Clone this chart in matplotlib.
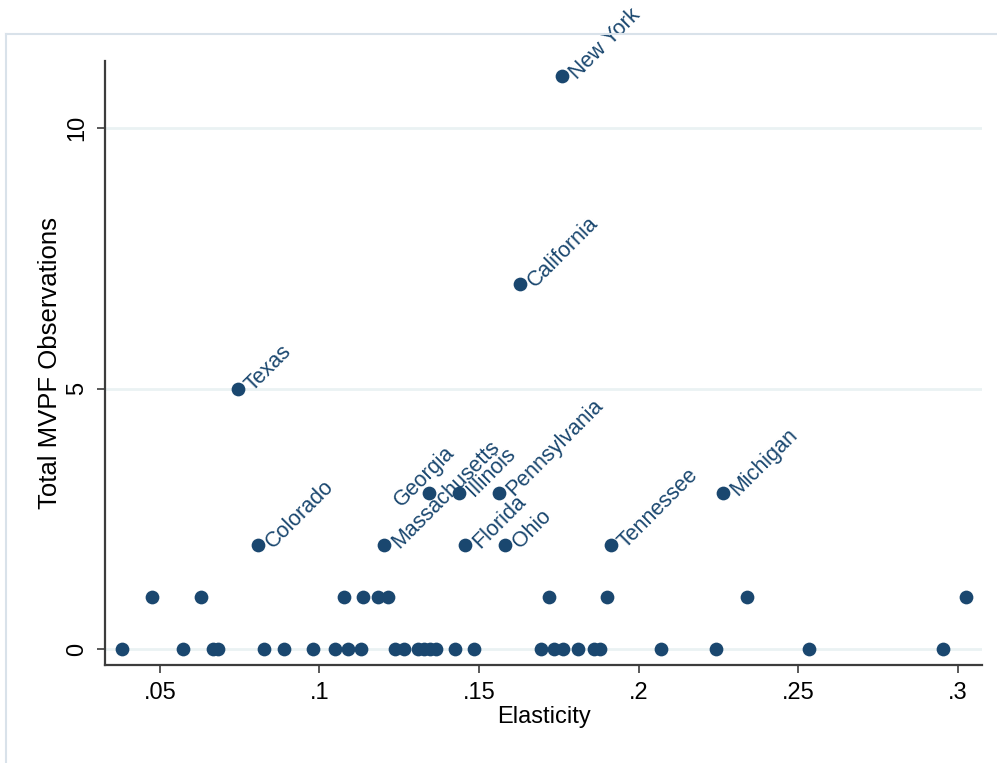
import matplotlib.pyplot as plt
from matplotlib.lines import Line2D

plt.rcParams['font.family'] = ['Liberation Sans', 'DejaVu Sans']

# unlabeled states
elast_zero = [0.0380, 0.0573, 0.0666, 0.0682, 0.0826, 0.0889, 0.0979, 0.1048,
              0.1089, 0.1130, 0.1236, 0.1265, 0.1309, 0.1327, 0.1346, 0.1365,
              0.1424, 0.1484, 0.1694, 0.1735, 0.1763, 0.1810, 0.1860, 0.1879,
              0.2070, 0.2242, 0.2534, 0.2954]
elast_one = [0.0474, 0.0628, 0.1077, 0.1136, 0.1183, 0.1215, 0.1719, 0.1901,
             0.2340, 0.3026]

# labeled states
states = ["New York", "California", "Texas", "Georgia", "Illinois", "Pennsylvania",
          "Michigan", "Colorado", "Massachusetts", "Florida", "Ohio", "Tennessee"]
state_elast = [0.1760, 0.1628, 0.0744, 0.1343, 0.1437, 0.1562,
               0.2264, 0.0807, 0.1202, 0.1456, 0.1581, 0.1913]
state_obs = [11, 7, 5, 3, 3, 3, 3, 2, 2, 2, 2, 2]

xticks = [0.05, 0.1, 0.15, 0.2, 0.25, 0.3]
xtick_labels = [".05", ".1", ".15", ".2", ".25", ".3"]
yticks = [0, 5, 10]

navy = "#1a476f"

fig = plt.figure(figsize=(9.97, 7.63), dpi=100)
ax = fig.add_axes([0.1053, 0.1284, 0.985 - 0.1053, 0.920 - 0.1284])

xs = elast_zero + elast_one + state_elast
ys = [0] * len(elast_zero) + [1] * len(elast_one) + state_obs
ax.scatter(xs, ys, s=98, color=navy, zorder=3, linewidths=0)

for name, x, y in zip(states, state_elast, state_obs):
    if name == "Georgia":
        ax.annotate(name, (x, y), xytext=(-4, 16), textcoords="offset pixels",
                    rotation=45, rotation_mode="anchor", ha="center", va="center",
                    color=navy, fontsize=15.5, annotation_clip=False)
    else:
        ax.annotate(name, (x, y), xytext=(11, 0), textcoords="offset pixels",
                    rotation=45, rotation_mode="anchor", ha="left", va="center",
                    color=navy, fontsize=15.5, annotation_clip=False)

ax.set_xlim(0.0328, 0.3076)
ax.set_ylim(-0.307, 11.286)
ax.set_xticks(xticks)
ax.set_xticklabels(xtick_labels)
ax.set_yticks(yticks)
ax.set_yticklabels([str(t) for t in yticks], rotation=90, va="center")

for t in yticks:
    ax.axhline(t, color="#eaf2f3", lw=2, zorder=1)

for side in ["top", "right"]:
    ax.spines[side].set_visible(False)
for side in ["left", "bottom"]:
    ax.spines[side].set_color("#3c3c3c")
    ax.spines[side].set_linewidth(1.6)

ax.tick_params(direction="out", length=6, width=1.2, color="#3c3c3c",
               labelsize=17, pad=6)

ax.set_xlabel("Elasticity", fontsize=17, labelpad=2)
ax.set_ylabel("Total MVPF Observations", fontsize=18.5, labelpad=3)

# outer graph border
ytop = 1 - 34 / 763
xleft = 6 / 997
fig.add_artist(Line2D([xleft, 1.01], [ytop, ytop], transform=fig.transFigure,
                      color="#d9e2ea", lw=1.5))
fig.add_artist(Line2D([xleft, xleft], [ytop, -0.01], transform=fig.transFigure,
                      color="#d9e2ea", lw=1.5))

fig.savefig("out.png", dpi=100)
